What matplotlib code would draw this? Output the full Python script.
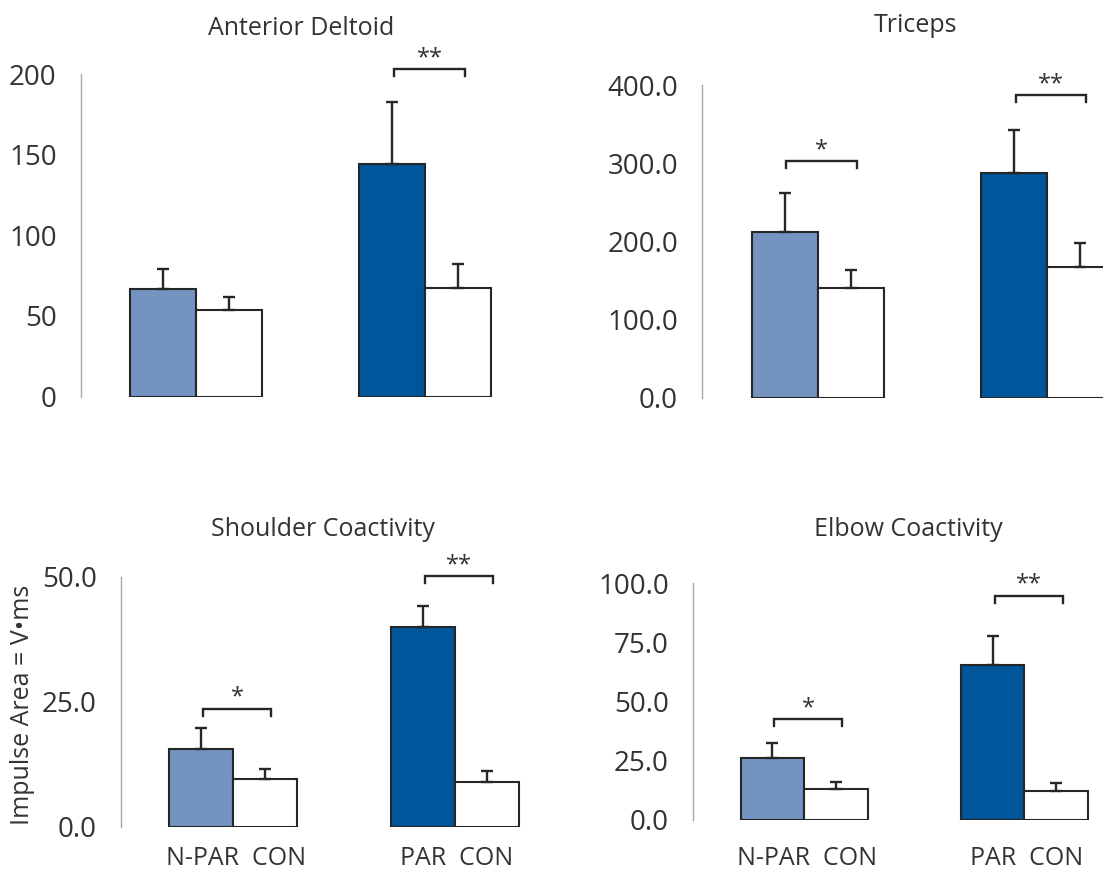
import matplotlib
matplotlib.use("Agg")
import matplotlib.pyplot as plt
import numpy as np

plt.rcParams['font.family'] = ['Open Sans', 'DejaVu Sans']

# ---------------- data ----------------
groups = ["N-PAR", "CON", "PAR", "CON"]
group_labels = ["N-PAR  CON", "PAR  CON"]

deltoid_mean = [66.5, 53.6, 144.2, 67.3]
deltoid_err = [12.8, 8.4, 38.4, 15.1]

triceps_mean = [212.5, 140.2, 287.5, 167.4]
triceps_err = [49.9, 23.4, 55.0, 30.6]

shoulder_mean = [15.6, 9.6, 40.0, 9.0]
shoulder_err = [4.2, 2.0, 4.1, 2.2]

elbow_mean = [26.2, 12.7, 65.2, 12.2]
elbow_err = [6.0, 3.1, 12.6, 3.3]

# significance: (pair index 0 = N-PAR vs CON, 1 = PAR vs CON, bracket level, stars)
deltoid_sig = [(1, 203, "**")]
triceps_sig = [(0, 303, "*"), (1, 387, "**")]
shoulder_sig = [(0, 23.6, "*"), (1, 50.1, "**")]
elbow_sig = [(0, 42.4, "*"), (1, 94.7, "**")]

titles = ["Anterior Deltoid", "Triceps", "Shoulder Coactivity", "Elbow Coactivity"]
y_maxes = [200, 400, 50, 100]
y_steps = [50, 100, 25, 25]
y_fmts = ["{:.0f}", "{:.1f}", "{:.1f}", "{:.1f}"]
ylabel = "Impulse Area = V\u2022ms"

# ---------------- style ----------------
W, H = 1103, 869
DPI = 100
light_blue = "#7493c0"
dark_blue = "#00569a"
edge = "#262626"
text_col = "#333333"
bar_colors = [light_blue, "white", dark_blue, "white"]
xpos = np.array([1.25, 2.25, 4.72, 5.72])
XMAX = 6.6

# panel geometry in pixels: left (axis line), bar unit width, top, bottom
panels = [
    dict(left=80.7, unit=66.0, top=74.0, bottom=396.5, tx=301, ty=35),
    dict(left=702.0, unit=66.0, top=85.0, bottom=398.0, tx=916, ty=32),
    dict(left=121.0, unit=64.0, top=576.5, bottom=826.5, tx=323, ty=536),
    dict(left=693.0, unit=63.5, top=583.0, bottom=819.5, tx=908, ty=536),
]
means = [deltoid_mean, triceps_mean, shoulder_mean, elbow_mean]
errs = [deltoid_err, triceps_err, shoulder_err, elbow_err]
sigs = [deltoid_sig, triceps_sig, shoulder_sig, elbow_sig]

fig = plt.figure(figsize=(W / DPI, H / DPI), dpi=DPI)
fig.patch.set_facecolor("white")

for i, p in enumerate(panels):
    right = p["left"] + XMAX * p["unit"]
    rect = [p["left"] / W, 1 - p["bottom"] / H,
            (right - p["left"]) / W, (p["bottom"] - p["top"]) / H]
    ax = fig.add_axes(rect)
    ax.set_xlim(0, XMAX)
    ax.set_ylim(0, y_maxes[i])
    ax.patch.set_alpha(0)

    ax.bar(xpos, means[i], width=1.0, color=bar_colors, edgecolor=edge,
           linewidth=1.5, zorder=2)
    ax.errorbar(xpos, means[i], yerr=[np.zeros(4), errs[i]], fmt="none",
                ecolor=edge, elinewidth=1.7, capsize=4.2, capthick=1.7,
                zorder=3)

    ppu = (p["bottom"] - p["top"]) / y_maxes[i]
    drop = 7.0 / ppu
    for (pair, level, stars) in sigs[i]:
        c1, c2 = xpos[2 * pair], xpos[2 * pair + 1]
        x1, x2 = c1 + 0.03, c2 + 0.10
        ax.plot([x1, x1, x2, x2], [level - drop, level, level, level - drop],
                color=edge, lw=1.7, clip_on=False, zorder=4,
                solid_joinstyle="miter")
        ax.annotate(stars, xy=((x1 + x2) / 2, level), xytext=(0, 3.5),
                    textcoords="offset points", ha="center", va="baseline",
                    fontsize=17, color=text_col, annotation_clip=False)

    ticks = np.arange(0, y_maxes[i] + 0.1, y_steps[i])
    ax.set_yticks(ticks)
    ax.set_yticklabels([y_fmts[i].format(t) for t in ticks])
    ax.tick_params(axis="y", length=0, pad=17.3, labelsize=20,
                   labelcolor=text_col)
    for s in ["top", "right", "bottom"]:
        ax.spines[s].set_visible(False)
    ax.spines["left"].set_color("#a8a8a8")
    ax.spines["left"].set_linewidth(1.0)

    if i >= 2:
        ax.set_xticks([1.8, 5.25])
        ax.set_xticklabels(group_labels)
        pad_px = 846.0 - p["bottom"]
        ax.tick_params(axis="x", length=0, pad=pad_px * 72 / DPI,
                       labelsize=18, labelcolor=text_col)
    else:
        ax.set_xticks([])

    fig.text(p["tx"] / W, 1 - p["ty"] / H, titles[i], ha="center",
             va="baseline", fontsize=18, color=text_col)

fig.text(23 / W, 1 - 705 / H, ylabel, rotation=90, ha="center", va="center",
         fontsize=18, color=text_col)

fig.savefig("out.png", dpi=DPI, facecolor="white")
